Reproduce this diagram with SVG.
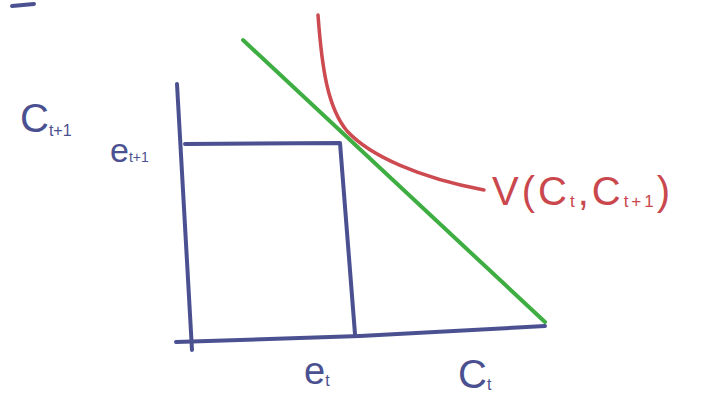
<svg xmlns="http://www.w3.org/2000/svg" width="724" height="398" viewBox="0 0 724 398">
<style>
.ax{fill:none;stroke:#4b5190;stroke-width:4;stroke-linecap:round;stroke-linejoin:round}
.bl{fill:#4b5190;font-family:"Liberation Sans",sans-serif}
.rd{fill:#c9474d;font-family:"Liberation Sans",sans-serif}
</style>
<rect width="724" height="398" fill="#ffffff"/>
<g id="frag"><path d="M12 6 L34 4" class="ax"/></g>
<g id="axes">
<path class="ax" d="M177 84 Q183 200 192 350"/>
<path class="ax" d="M176 342 L360 336 L545 326"/>
</g>
<g id="endowment">
<path class="ax" d="M185 144 L340 143 L355 334"/>
</g>
<g id="budget">
<path d="M243 40 L545 322" fill="none" stroke="#3fae42" stroke-width="4" stroke-linecap="round"/>
</g>
<g id="indiff">
<path d="M318 15 C322 70 328 108 347 131 C370 156 420 178 484 190" fill="none" stroke="#cc4a50" stroke-width="3.5" stroke-linecap="round"/>
</g>
<g id="labels">
<text class="bl" x="20" y="132" font-size="40">C<tspan font-size="16" dy="4">t+1</tspan></text>
<text class="bl" x="110" y="162" font-size="34">e<tspan font-size="14" dy="0">t+1</tspan></text>
<text class="bl" x="304" y="384" font-size="38">e<tspan font-size="16" dy="2">t</tspan></text>
<text class="bl" x="458" y="388" font-size="40">C<tspan font-size="16" dy="2">t</tspan></text>
<text class="rd" x="492" y="205" font-size="40" letter-spacing="3">V(C<tspan font-size="17" dy="2">t</tspan><tspan dy="-2">,C</tspan><tspan font-size="17" dy="2">t+1</tspan><tspan dy="-2">)</tspan></text>
</g>
</svg>
